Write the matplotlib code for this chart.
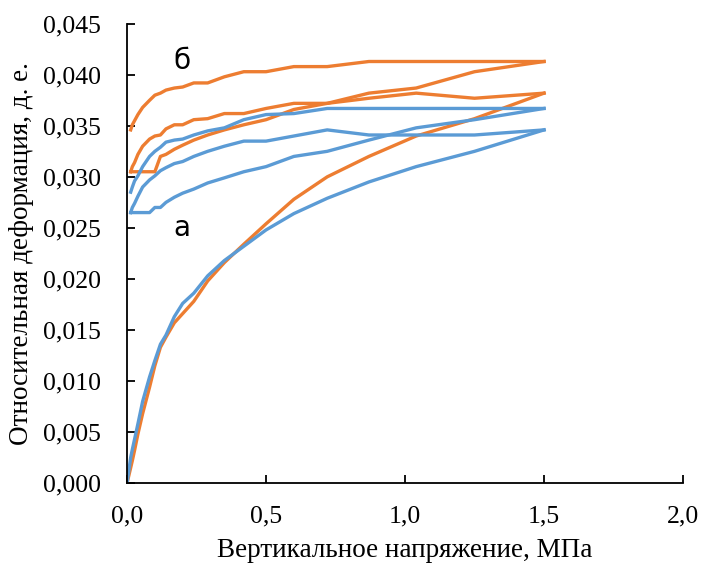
import matplotlib
matplotlib.use("Agg")
import matplotlib.pyplot as plt
from matplotlib.ticker import FuncFormatter

# vertical stress, MPa
stress_load = [0.0, 0.013, 0.019, 0.027, 0.039, 0.056, 0.081, 0.1, 0.12, 0.14, 0.17, 0.2,
               0.24, 0.29, 0.35, 0.42, 0.5, 0.6, 0.72, 0.87, 1.04, 1.25, 1.5]
stress_cycle = [0.013, 0.019, 0.027, 0.039, 0.056, 0.081, 0.1, 0.12, 0.14, 0.17, 0.2,
                0.24, 0.29, 0.35, 0.42, 0.5, 0.6, 0.72, 0.87, 1.04, 1.25, 1.5]

# orange (б)
b_load = [0.0, 0.0015, 0.0022, 0.0032, 0.0048, 0.0068, 0.0094, 0.0115, 0.0133, 0.0143, 0.0157, 0.0166,
          0.0178, 0.0198, 0.0216, 0.0234, 0.0254, 0.0278, 0.030, 0.032, 0.034, 0.0357, 0.0382]
b_unload1 = [0.0305, 0.031, 0.0314, 0.0322, 0.033, 0.0337, 0.034, 0.0341, 0.0347, 0.0351, 0.0351,
             0.0356, 0.0357, 0.0362, 0.0362, 0.0367, 0.0372, 0.0372, 0.0377, 0.0382, 0.0377, 0.0382]
b_reload = [0.0305, 0.0305, 0.0305, 0.0305, 0.0305, 0.0305, 0.0305, 0.032, 0.0322, 0.0327, 0.0331,
            0.0336, 0.0341, 0.0346, 0.0351, 0.0356, 0.0366, 0.0372, 0.0382, 0.0387, 0.0403, 0.0413]
b_unload2 = [0.0346, 0.0351, 0.0355, 0.0361, 0.0368, 0.0375, 0.038, 0.0382, 0.0385, 0.0387, 0.0388,
             0.0392, 0.0392, 0.0398, 0.0403, 0.0403, 0.0408, 0.0408, 0.0413, 0.0413, 0.0413, 0.0413]

# blue (а)
a_load = [0.0, 0.0025, 0.0033, 0.0043, 0.0058, 0.008, 0.0104, 0.012, 0.0136, 0.0145, 0.0163, 0.0176,
          0.0186, 0.0203, 0.0218, 0.0232, 0.0248, 0.0264, 0.0279, 0.0295, 0.031, 0.0325, 0.0346]
a_unload1 = [0.0265, 0.027, 0.0274, 0.0281, 0.029, 0.0297, 0.0301, 0.0306, 0.0309, 0.0313, 0.0315,
             0.032, 0.0325, 0.033, 0.0335, 0.0335, 0.034, 0.0346, 0.0341, 0.0341, 0.0341, 0.0346]
a_reload = [0.0265, 0.0265, 0.0265, 0.0265, 0.0265, 0.0265, 0.027, 0.027, 0.0275, 0.028, 0.0284,
            0.0288, 0.0294, 0.0299, 0.0305, 0.031, 0.032, 0.0325, 0.0336, 0.0348, 0.0356, 0.0367]
a_unload2 = [0.0285, 0.029, 0.0296, 0.0301, 0.031, 0.032, 0.0325, 0.0329, 0.0334, 0.0336, 0.0337,
             0.0341, 0.0345, 0.0348, 0.0356, 0.0361, 0.0362, 0.0367, 0.0367, 0.0367, 0.0367, 0.0367]

orange = "#ED7D31"
blue = "#5B9BD5"
lw = 2.4

fig = plt.figure(figsize=(7.02, 5.65), dpi=100)
ax = fig.add_axes([0.181, 0.145, 0.792, 0.813])

ax.plot(stress_load, b_load, color=orange, lw=lw)
ax.plot(stress_cycle, b_unload1, color=orange, lw=lw)
ax.plot(stress_cycle, b_reload, color=orange, lw=lw)
ax.plot(stress_cycle, b_unload2, color=orange, lw=lw)

ax.plot(stress_load, a_load, color=blue, lw=lw)
ax.plot(stress_cycle, a_unload1, color=blue, lw=lw)
ax.plot(stress_cycle, a_reload, color=blue, lw=lw)
ax.plot(stress_cycle, a_unload2, color=blue, lw=lw)

ax.text(0.198, 0.0413, "б", fontsize=20, family="DejaVu Sans", ha="center", va="center")
ax.text(0.198, 0.0250, "а", fontsize=20, family="DejaVu Sans", ha="center", va="center")

ax.set_xlim(0, 2.0)
ax.set_ylim(0, 0.045)
ax.set_xticks([0, 0.5, 1.0, 1.5, 2.0])
ax.set_yticks([i * 0.005 for i in range(10)])
ax.xaxis.set_major_formatter(FuncFormatter(lambda v, p: f"{v:.1f}".replace(".", ",")))
ax.yaxis.set_major_formatter(FuncFormatter(lambda v, p: f"{v:.3f}".replace(".", ",")))

for s in ["top", "right"]:
    ax.spines[s].set_visible(False)
for s in ["left", "bottom"]:
    ax.spines[s].set_linewidth(1.3)
ax.tick_params(direction="in", length=6, width=1.3, labelsize=18.5)
ax.tick_params(axis="y", pad=19)
ax.tick_params(axis="x", pad=16)
for lab in ax.get_xticklabels() + ax.get_yticklabels():
    lab.set_family("Liberation Serif")

ax.set_xlabel("Вертикальное напряжение, МПа", family="Liberation Serif", fontsize=19.5, labelpad=8)
ax.set_ylabel("Относительная деформация, д. е.", family="Liberation Serif", fontsize=19.5, labelpad=6)

fig.savefig("out.png", dpi=100)
